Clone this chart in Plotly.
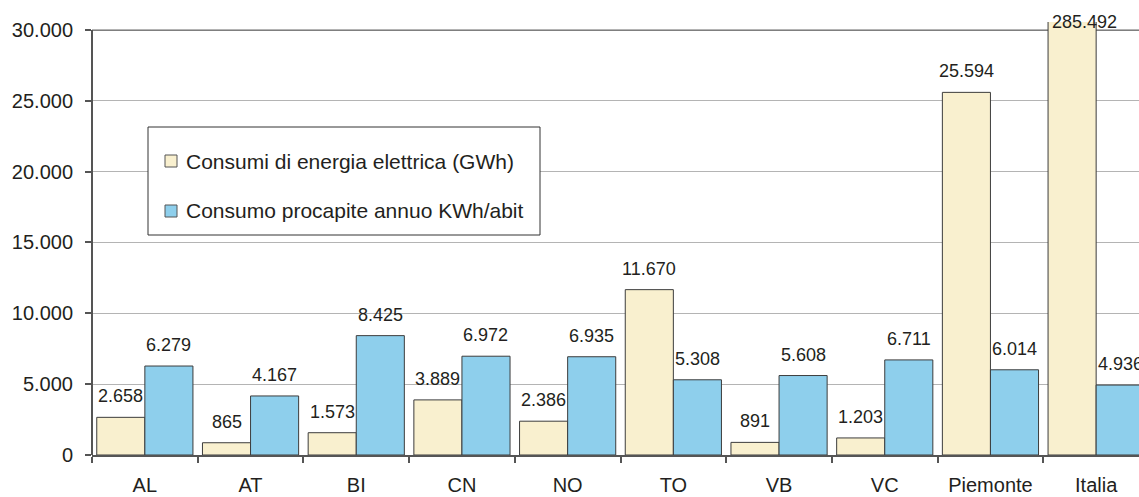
import plotly.graph_objects as go

categories = ["AL", "AT", "BI", "CN", "NO", "TO", "VB", "VC", "Piemonte", "Italia"]
consumi_gwh = [2658, 865, 1573, 3889, 2386, 11670, 891, 1203, 25594, 285492]
procapite_kwh = [6279, 4167, 8425, 6972, 6935, 5308, 5608, 6711, 6014, 4936]
series_names = ["Consumi di energia elettrica (GWh)", "Consumo procapite annuo KWh/abit"]
y_ticks = [0, 5000, 10000, 15000, 20000, 25000, 30000]

W, H = 1139, 497
L, R, T, B = 92, 0, 22, 42
PW, PH = W - L - R, H - T - B
Y_TOP = 30000
Y_MAX = 30560

CREAM = "#F9F0CF"
BLUE = "#8ECFEC"
EDGE = "#3c3c3c"
TXT = "#231F20"
FONT = "Liberation Sans, Arial, sans-serif"


def fx(px):
    return (px - L) / PW


def fy(py):
    return (H - B - py) / PH


def it(v):
    return f"{v:,}".replace(",", ".")


fig = go.Figure()
fig.add_trace(go.Bar(x=categories, y=consumi_gwh, name=series_names[0],
                     marker=dict(color=CREAM, line=dict(color=EDGE, width=1))))
fig.add_trace(go.Bar(x=categories, y=procapite_kwh, name=series_names[1],
                     marker=dict(color=BLUE, line=dict(color=EDGE, width=1))))

annotations = []
for vals, shift in ((consumi_gwh, -24), (procapite_kwh, 24)):
    for c, v in zip(categories, vals):
        if v > Y_MAX:
            annotations.append(dict(x=c, y=Y_MAX, xref="x", yref="y", text=it(v),
                                    showarrow=False, xanchor="left", yanchor="middle",
                                    xshift=shift - 22, yshift=0,
                                    font=dict(size=18, color=TXT, family=FONT)))
        else:
            annotations.append(dict(x=c, y=v, xref="x", yref="y", text=it(v),
                                    showarrow=False, xanchor="center", yanchor="bottom",
                                    xshift=shift, yshift=9,
                                    font=dict(size=18, color=TXT, family=FONT)))

shapes = [
    dict(type="rect", xref="paper", yref="paper", x0=fx(148), x1=fx(540), y0=fy(235), y1=fy(127),
         line=dict(color="#333333", width=1), fillcolor="white", layer="above"),
    dict(type="line", xref="paper", yref="y", x0=0, x1=1, y0=Y_TOP, y1=Y_TOP,
         line=dict(color="#555555", width=1.5), layer="below"),
    dict(type="line", xref="paper", yref="y", x0=0, x1=0, y0=0, y1=Y_TOP,
         line=dict(color="#555555", width=2)),
]
for (col, yc, name) in ((CREAM, 161, series_names[0]), (BLUE, 211, series_names[1])):
    shapes.append(dict(type="rect", xref="paper", yref="paper", x0=fx(165), x1=fx(177),
                       y0=fy(yc + 6), y1=fy(yc - 6), fillcolor=col,
                       line=dict(color="#555555", width=1), layer="above"))
    annotations.append(dict(x=fx(184), y=fy(yc), xref="paper", yref="paper", text=name,
                            showarrow=False, xanchor="left", yanchor="middle",
                            font=dict(size=21, color=TXT, family=FONT)))

fig.update_layout(
    width=W, height=H,
    margin=dict(l=L, r=R, t=T, b=B, autoexpand=False),
    paper_bgcolor="white", plot_bgcolor="white",
    separators=",.",
    barmode="group", bargap=0.09, bargroupgap=0,
    showlegend=False,
    font=dict(family=FONT, size=18, color=TXT),
    shapes=shapes, annotations=annotations,
)
fig.update_xaxes(
    range=[-0.5, -0.5 + PW / 105.7],
    showline=True, linecolor="#555555", linewidth=2,
    ticks="outside", tickson="boundaries", ticklen=6, tickcolor="#555555", tickwidth=1.5,
    ticklabelstandoff=11,
    tickfont=dict(size=20, color=TXT, family=FONT),
    showgrid=False, zeroline=False,
)
fig.update_yaxes(
    range=[0, Y_MAX], tickvals=y_ticks, tickformat=",d",
    showline=False,
    ticks="outside", ticklen=6, tickcolor="#555555", tickwidth=1.5,
    ticklabelstandoff=8,
    tickfont=dict(size=20, color=TXT, family=FONT),
    showgrid=True, gridcolor="#b4b4b4", gridwidth=1, zeroline=False,
)

fig.write_html("out.html", config={"displayModeBar": False},
               post_script="document.body.style.margin='0';document.body.style.overflow='hidden';")
